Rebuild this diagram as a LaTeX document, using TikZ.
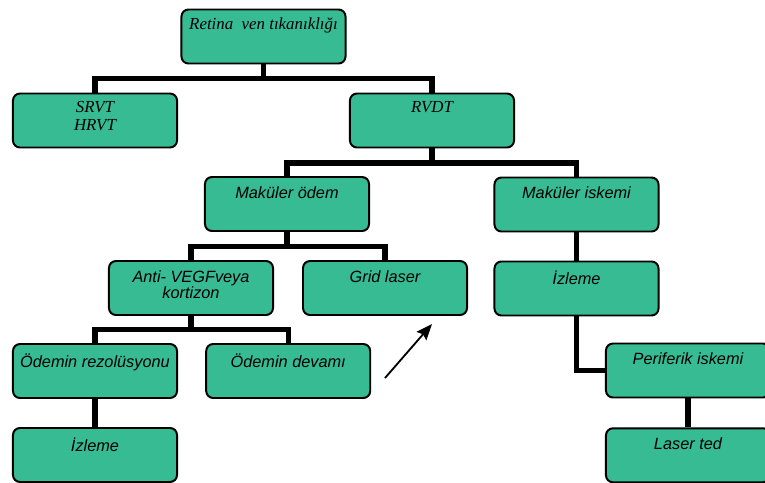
\documentclass[tikz,border=0pt]{standalone}
\usepackage{fontspec}
\setmainfont{Liberation Serif}
\setsansfont{Liberation Sans}
\usepackage{tikz}
\usetikzlibrary{arrows.meta, positioning}
\definecolor{BoxGreen}{HTML}{36BB93}
\tikzset{
  box/.style={rectangle, rounded corners=5pt, draw=black, line width=1.4pt, fill=BoxGreen, minimum width=4.1cm, minimum height=1.35cm},
  sanstext/.style={anchor=north, yshift=-4pt, align=center, font=\sffamily\itshape\fontsize{11.6}{11.6}\selectfont},
  seriftext/.style={anchor=north, yshift=-3pt, align=center, font=\itshape\fontsize{12}{12.4}\selectfont},
  link/.style={line width=3.6pt, black},
  pointer/.style={-{Stealth[length=4mm, width=3.2mm, inset=0.6mm]}, line width=1.3pt, black}
}
\begin{document}
\begin{tikzpicture}[x=0.025cm, y=-0.025cm]
  \useasboundingbox (0,0) rectangle (765,482);
  \clip (0,0) rectangle (765,482);

  \node[box, label={[seriftext]north:{Retina~ ven tıkanıklığı}}] (root) at (263.5,36.5) {};
  \node[box, label={[seriftext]north:{SRVT\\HRVT}}] (srvt) at (95,120.5) {};
  \node[box, label={[seriftext]north:{RVDT}}] (rvdt) at (432,120.5) {};

  \node[box, label={[sanstext]north:{Maküler ödem}}] (modem) at (287,204) {};
  \node[box, label={[sanstext]north:{Maküler iskemi}}] (miskemi) at (576.5,204.5) {};

  \node[box, label={[sanstext]north:{Anti- VEGFveya\\kortizon}}] (anti) at (191,288) {};
  \node[box, label={[sanstext]north:{Grid laser}}, right=0.7cm of anti] (grid) {};
  \node[box, label={[sanstext]north:{İzleme}}, below=0.7cm of miskemi] (izlemeB) {};

  \node[box, label={[sanstext]north:{Ödemin rezolüsyonu}}] (rezol) at (95,371) {};
  \node[box, label={[sanstext]north:{Ödemin devamı}}, right=0.68cm of rezol] (devam) {};
  \node[box, label={[sanstext]north:{Periferik iskemi}}] (perif) at (688,370.5) {};

  \node[box, label={[sanstext]north:{İzleme}}, below=0.7cm of rezol] (izlemeA) {};
  \node[box, label={[sanstext]north:{Laser ted}}, below=0.72cm of perif] (laser) {};

  \draw[link] (root.south) -- ++(0,14) coordinate (j1);
  \draw[link] (srvt.north) |- (j1) -| (rvdt.north);
  \draw[link] (rvdt.south) -- ++(0,14.5) coordinate (j2);
  \draw[link] (modem.north) |- (j2) -| (miskemi.north);
  \draw[link] (modem.south) -- ++(0,14.5) coordinate (j3);
  \draw[link] (anti.north) |- (j3) -| (grid.north);
  \draw[link] (anti.south) -- ++(0,13.5) coordinate (j4);
  \draw[link] (rezol.north) |- (j4) -| (devam.north);
  \draw[link] (rezol.south) -- (izlemeA.north);
  \draw[link] (miskemi.south) -- (izlemeB.north);
  \draw[link] (izlemeB.south) |- (perif.west);
  \draw[link] (perif.south) -- (laser.north);

  \coordinate (ptail) at (385,378);
  \coordinate (phead) at (432,324);
  \draw[pointer] (ptail) -- (phead);
\end{tikzpicture}
\end{document}
